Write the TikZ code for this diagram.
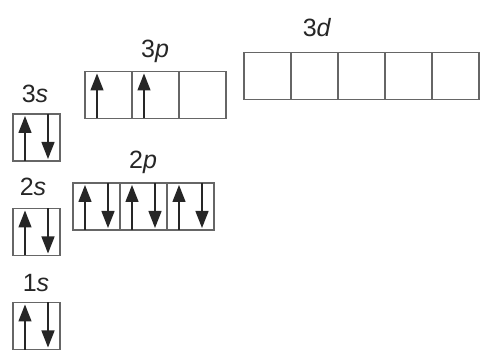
\documentclass[tikz,border=0pt]{standalone}
\usepackage{fontspec}
\setmainfont{Liberation Sans}
\usetikzlibrary{positioning, arrows.meta}

\newcommand{\spinup}[1]{\draw[spin] ([xshift=-11.5pt]#1.south) -- ([xshift=-11.5pt,yshift=-2pt]#1.north);}
\newcommand{\spindn}[1]{\draw[spin] ([xshift=11.5pt]#1.north) -- ([xshift=11.5pt,yshift=2pt]#1.south);}

\begin{document}
\begin{tikzpicture}[
  x=1pt, y=-1pt,
  orb/.style={draw=black!60, line width=1.6pt, minimum size=47pt, inner sep=0pt, outer sep=0pt},
  lbl/.style={font=\fontsize{25}{29}\selectfont, text=black!85, anchor=base, inner sep=0pt},
  spin/.style={-{Triangle[length=17pt, width=13pt]}, line width=1.4pt, black!85}
]
  \useasboundingbox (0,0) rectangle (480,350);
  % s orbitals
  \node[orb] (s3) at (36.5,137.5) {};
  \node[orb] (s2) at (36.5,232) {};
  \node[orb] (s1) at (36.5,326) {};
  % p orbitals
  \node[orb] (p3a) at (108.5,95) {};
  \node[orb, right=0pt of p3a] (p3b) {};
  \node[orb, right=0pt of p3b] (p3c) {};
  \node[orb] (p2a) at (96.5,206.5) {};
  \node[orb, right=0pt of p2a] (p2b) {};
  \node[orb, right=0pt of p2b] (p2c) {};
  % d orbitals, empty
  \node[orb] (d3a) at (267.5,76) {};
  \node[orb, right=0pt of d3a] (d3b) {};
  \node[orb, right=0pt of d3b] (d3c) {};
  \node[orb, right=0pt of d3c] (d3d) {};
  \node[orb, right=0pt of d3d] (d3e) {};
  % labels
  \node[lbl] (l3s) at (35,103) {3\textit{s}};
  \node[lbl] (l2s) at (33,196) {2\textit{s}};
  \node[lbl] (l1s) at (36,292) {1\textit{s}};
  \node[lbl] (l3p) at (155,58) {3\textit{p}};
  \node[lbl] (l2p) at (143,169) {2\textit{p}};
  \node[lbl] (l3d) at (317,37) {3\textit{d}};
  % electrons
  \spinup{s1} \spindn{s1}
  \spinup{s2} \spindn{s2}
  \spinup{s3} \spindn{s3}
  \spinup{p2a} \spindn{p2a}
  \spinup{p2b} \spindn{p2b}
  \spinup{p2c} \spindn{p2c}
  \spinup{p3a}
  \spinup{p3b}
\end{tikzpicture}
\end{document}
